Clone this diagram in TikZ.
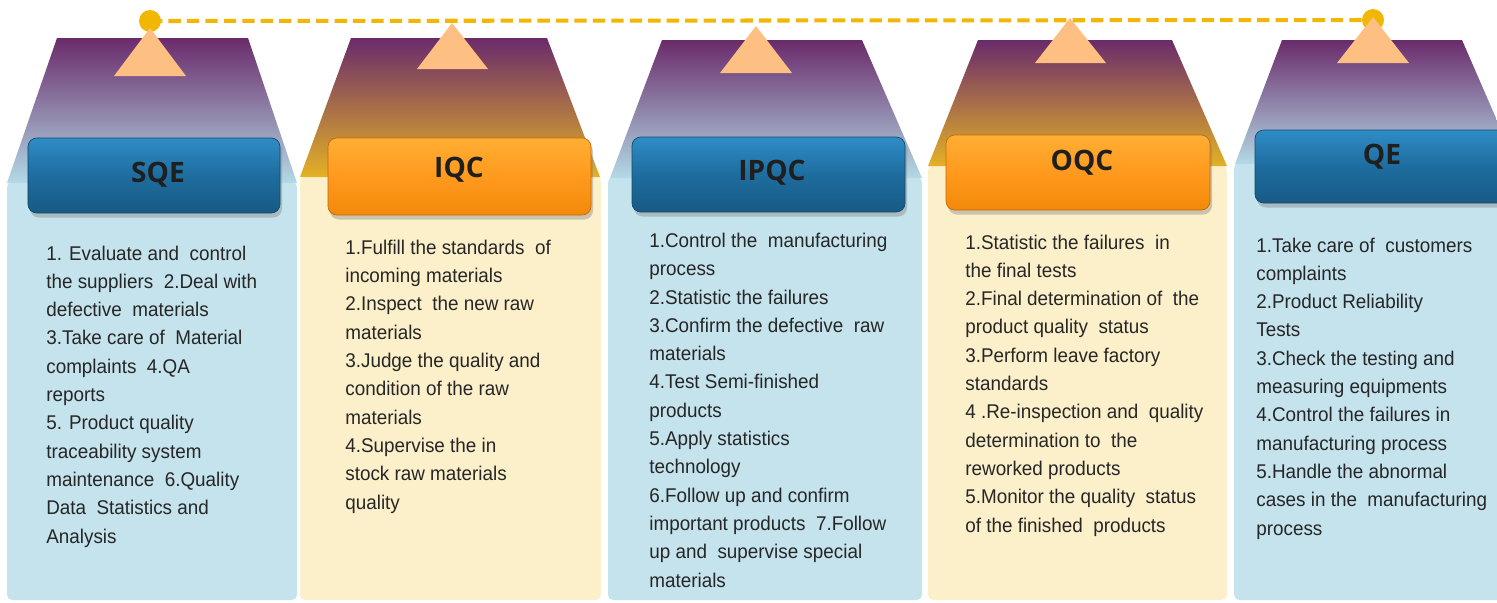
\documentclass[tikz,border=0pt]{standalone}
\usepackage{fontspec}
\setmainfont{Liberation Sans}[FakeStretch=0.95]
\newfontfamily\hdrfont{Open Sans}
\usetikzlibrary{shadows}
\definecolor{purpletop}{HTML}{6A2B6B}
\definecolor{skyfade}{HTML}{B3DAE6}
\definecolor{goldfade}{HTML}{E4B126}
\definecolor{skypanel}{HTML}{C5E3ED}
\definecolor{creampanel}{HTML}{FCF0CB}
\definecolor{bluetop}{HTML}{2F8CC6}
\definecolor{bluemid}{HTML}{1E6D9F}
\definecolor{bluebot}{HTML}{175A84}
\definecolor{blueline}{HTML}{124A6E}
\definecolor{orangetop}{HTML}{FFAE34}
\definecolor{orangemid}{HTML}{FF9A1E}
\definecolor{orangebot}{HTML}{F2890A}
\definecolor{orangeline}{HTML}{C46A08}
\definecolor{peak}{HTML}{FDBF82}
\definecolor{railyellow}{HTML}{F2B705}

\begin{document}
\begin{tikzpicture}[x=0.2mm,y=-0.2mm,
        roof/.style={top color=purpletop,bottom color=#1,draw=none},
        panel/.style={fill=#1,draw=none,rounded corners=3pt},
        dot/.style={circle,fill=railyellow,draw=none,minimum size=0.44cm,inner sep=0pt},
        rail/.style={draw=railyellow,line width=2.3pt,dash pattern=on 7pt off 3.5pt},
        peakmark/.style={fill=peak,draw=none},
        hdr/.style={rectangle,rounded corners=5pt,inner sep=0pt,minimum height=1.5cm,
            drop shadow={opacity=0.4,shadow xshift=0.4mm,shadow yshift=-0.9mm}},
        hdrblue/.style={hdr,top color=bluetop,bottom color=bluebot,middle color=bluemid,draw=blueline},
        hdrorange/.style={hdr,top color=orangetop,bottom color=orangebot,middle color=orangemid,draw=orangeline},
        hdrtext/.style={inner sep=0pt,text=black!88,font=\hdrfont\bfseries\fontsize{16}{16}\selectfont},
        body/.style={anchor=base west,align=left,inner sep=0pt,text=black!85,
            font=\fontsize{11.3}{16.1}\selectfont}]
        \useasboundingbox (0,0) rectangle (1497,602);
        \clip (0,0) rectangle (1497,602);
        \fill[white] (0,0) rectangle (1497,602);
        % Panels
        \fill[panel=skypanel] (7,182) rectangle (297,600);
        \fill[panel=creampanel] (300,176) rectangle (601,600);
        \fill[panel=skypanel] (608,177) rectangle (922,600);
        \fill[panel=creampanel] (928,165) rectangle (1227,600);
        \fill[panel=skypanel] (1234,163) rectangle (1520,600);
        % Roofs
        \shade[roof=skyfade] (57,38) -- (248,38) -- (297,183) -- (7,183) -- cycle;
        \shade[roof=goldfade] (351,38) -- (547,38) -- (600,177) -- (300,177) -- cycle;
        \shade[roof=skyfade] (662,40) -- (862,40) -- (922,178) -- (610,178) -- cycle;
        \shade[roof=goldfade] (978,40) -- (1172,40) -- (1227,166) -- (928,166) -- cycle;
        \shade[roof=skyfade] (1282,40) -- (1462,40) -- (1516,164) -- (1235,164) -- cycle;
        % Dashed rail
        \node[dot] (railL) at (150,21) {};
        \node[dot] (railR) at (1373,20) {};
        \draw[rail] (railL.center) -- (railR.center);
        % Peaks
        \fill[peakmark] (114,76) -- (150,28) -- (186,76) -- cycle;
        \fill[peakmark] (417,69) -- (452,23) -- (488,69) -- cycle;
        \fill[peakmark] (720,73) -- (756,26) -- (792,73) -- cycle;
        \fill[peakmark] (1035,63) -- (1070,18) -- (1106,63) -- cycle;
        \fill[peakmark] (1337,63) -- (1373,17) -- (1409,63) -- cycle;
        % Headers
        \node[hdrblue,minimum width=5.04cm] (sqe) at (154,175.5) {};
        \node[hdrorange,minimum width=5.26cm,minimum height=1.54cm] (iqc) at (459.5,176.5) {};
        \node[hdrblue,minimum width=5.46cm] (ipqc) at (768.5,174.5) {};
        \node[hdrorange,minimum width=5.28cm] (oqc) at (1078,172.5) {};
        \node[hdrblue,minimum width=5.1cm,minimum height=1.46cm] (qe) at (1382.5,166.5) {};
        \node[hdrtext] (sqe-lbl) at (158,175) {SQE};
        \node[hdrtext] (iqc-lbl) at (459,170) {IQC};
        \node[hdrtext] (ipqc-lbl) at (772,173) {IPQC};
        \node[hdrtext] (oqc-lbl) at (1082,163) {OQC};
        \node[hdrtext] (qe-lbl) at (1382,157) {QE};
        % Duties (placed at the baseline of their last line)
        \node[body] (sqe-txt) at (46,543) {1. Evaluate and\ \ control\\the suppliers\ \ 2.Deal with\\defective\ \ materials\\3.Take care of\ \ Material\\complaints\ \ 4.QA\\reports\\5. Product quality\\traceability system\\maintenance\ \ 6.Quality\\Data\ \ Statistics and\\Analysis};
        \node[body] (iqc-txt) at (345,509) {1.Fulfill the standards\ \ of\\incoming materials\\2.Inspect\ \ the new raw\\materials\\3.Judge the quality and\\condition of the raw\\materials\\4.Supervise the in\\stock raw materials\\quality};
        \node[body] (ipqc-txt) at (649,587) {1.Control the\ \ manufacturing\\process\\2.Statistic the failures\\3.Confirm the defective\ \ raw\\materials\\4.Test Semi-finished\\products\\5.Apply statistics\\technology\\6.Follow up and confirm\\important products\ \ 7.Follow\\up and\ \ supervise special\\materials};
        \node[body] (oqc-txt) at (965,532) {1.Statistic the failures\ \ in\\the final tests\\2.Final determination of\ \ the\\product quality\ \ status\\3.Perform leave factory\\standards\\4 .Re-inspection and\ \ quality\\determination to\ \ the\\reworked products\\5.Monitor the quality\ \ status\\of the finished\ \ products};
        \node[body] (qe-txt) at (1256,535) {1.Take care of\ \ customers\\complaints\\2.Product Reliability\\Tests\\3.Check the testing and\\measuring equipments\\4.Control the failures in\\manufacturing process\\5.Handle the abnormal\\cases in the\ \ manufacturing\\process};
    \end{tikzpicture}
\end{document}
